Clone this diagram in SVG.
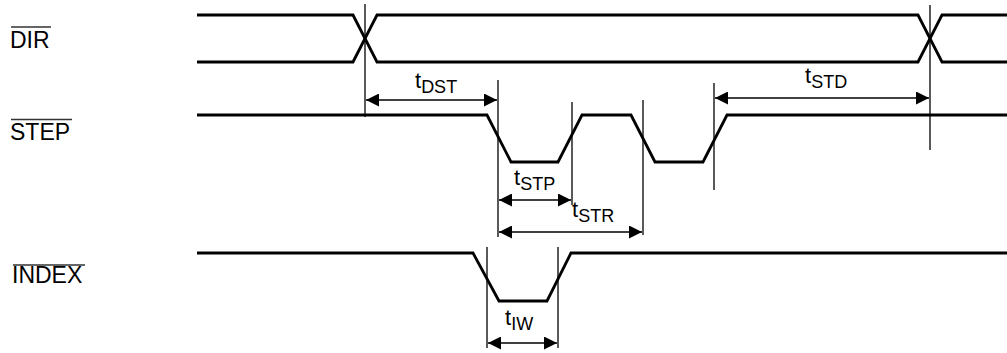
<svg xmlns="http://www.w3.org/2000/svg" width="1007" height="353" viewBox="0 0 1007 353">
<style>
.sig{fill:none;stroke:#000;stroke-width:2.8;stroke-linejoin:miter}
.ref{fill:none;stroke:#000;stroke-width:1.3}
.dim{fill:none;stroke:#000;stroke-width:1.6;marker-start:url(#ah);marker-end:url(#ah)}
.lbl{font-family:"Liberation Sans",Arial,sans-serif;font-size:23px;fill:#000}
.tl{font-family:"Liberation Sans",Arial,sans-serif;font-size:22px;fill:#000}
.sub{font-size:18px}
.ov{stroke:#333;stroke-width:1.4}
</style>
<defs>
<marker id="ah" viewBox="0 0 13 13" refX="13" refY="6.5" markerWidth="13" markerHeight="13" markerUnits="userSpaceOnUse" orient="auto-start-reverse">
<path d="M0,0 L13,6.5 L0,13 Z" fill="#000"/>
</marker>
</defs>
<g id="DIR">
<text class="lbl" x="10" y="48">DIR</text>
<line class="ov" x1="11" y1="27" x2="51" y2="27"/>
<path class="sig" d="M197,15 H353 L377,62 H918 L942,15 H1007"/>
<path class="sig" d="M197,62 H353 L377,15 H918 L942,62 H1007"/>
</g>
<g id="STEP">
<text class="lbl" x="10" y="140">STEP</text>
<line class="ov" x1="11" y1="119.5" x2="72" y2="119.5"/>
<path class="sig" d="M197,115 H487 L511,162 H558 L582,115 H631 L655,162 H703 L727,115 H1007"/>
</g>
<g id="INDEX">
<text class="lbl" x="12" y="283">INDEX</text>
<line class="ov" x1="13" y1="265" x2="85" y2="265"/>
<path class="sig" d="M197,253 H473 L499,301 H547 L571,253 H1007"/>
</g>
<g id="connectors">
<line class="ref" x1="365" y1="4" x2="365" y2="117"/>
<line class="ref" x1="930" y1="5" x2="930" y2="150"/>
<line class="ref" x1="498" y1="80" x2="498" y2="237"/>
<line class="ref" x1="572" y1="102" x2="572" y2="205"/>
<line class="ref" x1="643" y1="100" x2="643" y2="235"/>
<line class="ref" x1="714" y1="83" x2="714" y2="190"/>
<line class="ref" x1="487" y1="247" x2="487" y2="348"/>
<line class="ref" x1="558" y1="247" x2="558" y2="348"/>
<line class="dim" x1="366" y1="100" x2="497" y2="100"/>
<line class="dim" x1="715" y1="98" x2="929" y2="98"/>
<line class="dim" x1="499" y1="200" x2="571" y2="200"/>
<line class="dim" x1="499" y1="232" x2="642" y2="232"/>
<line class="dim" x1="488" y1="343" x2="557" y2="343"/>
</g>
<g id="labels">
<text class="tl" x="415" y="88">t<tspan class="sub" dy="5">DST</tspan></text>
<text class="tl" x="805" y="83">t<tspan class="sub" dy="5">STD</tspan></text>
<text class="tl" x="514" y="185">t<tspan class="sub" dy="5">STP</tspan></text>
<text class="tl" x="572" y="217">t<tspan class="sub" dy="5">STR</tspan></text>
<text class="tl" x="505" y="325">t<tspan class="sub" dy="5">IW</tspan></text>
</g>
</svg>
